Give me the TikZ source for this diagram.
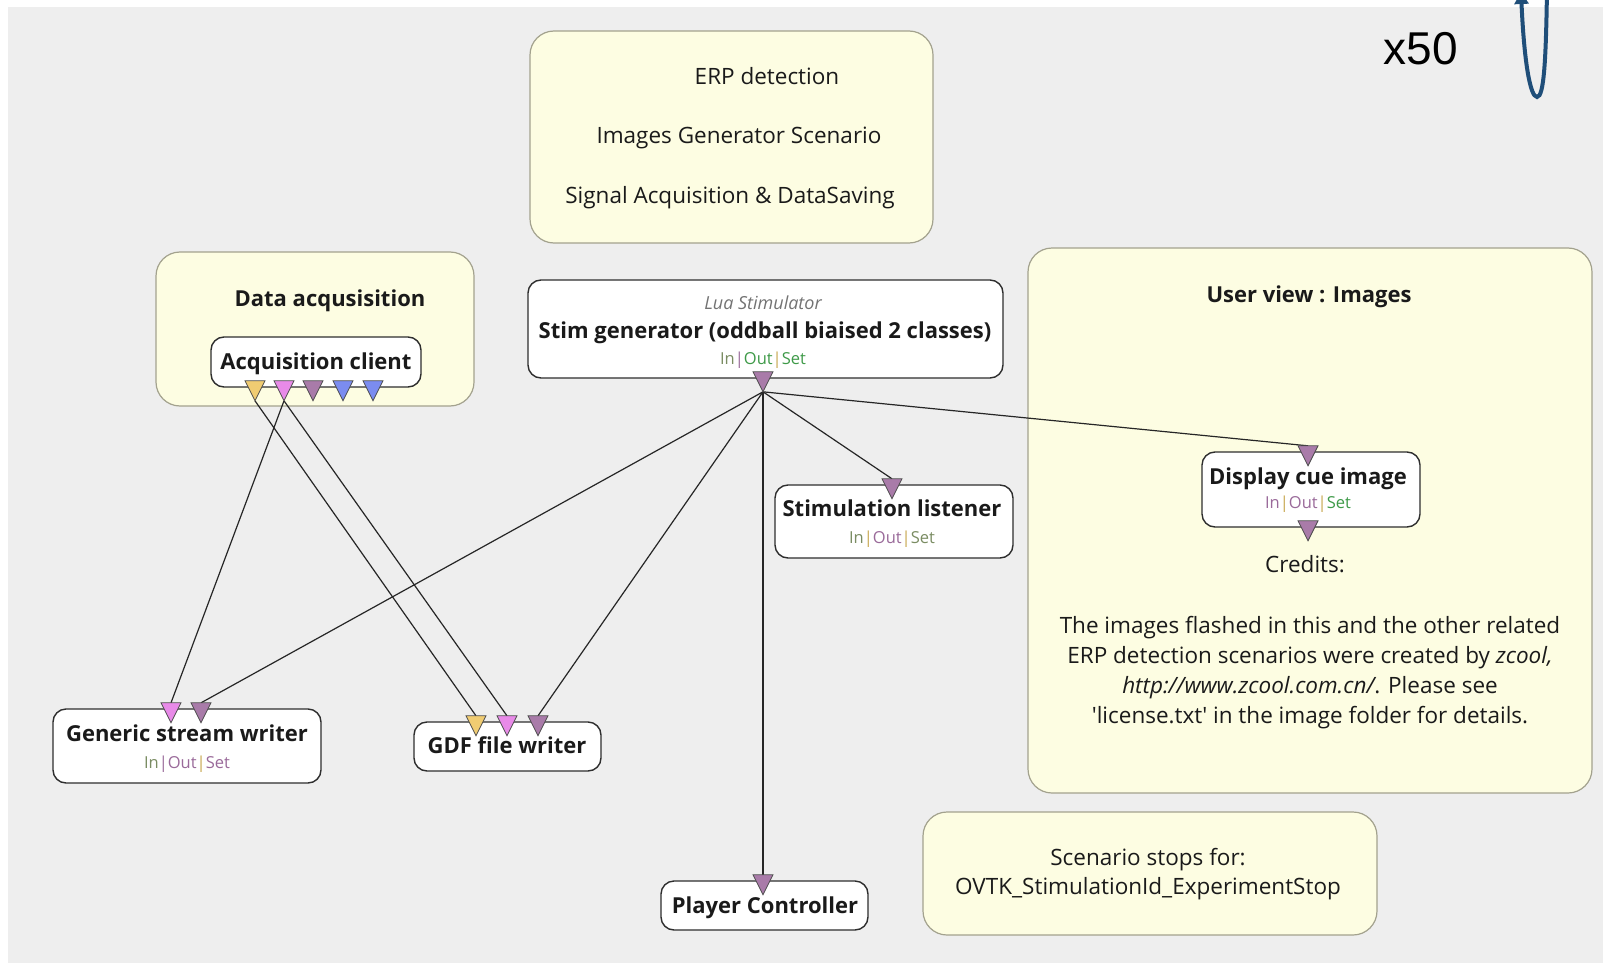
\documentclass[tikz,border=0pt]{standalone}
\usepackage{fontspec}
\setmainfont{Open Sans}
\newfontfamily\arialf{Liberation Sans}
\usetikzlibrary{arrows.meta,shapes.geometric}
\definecolor{bggray}{HTML}{EEEEEE}
\definecolor{notefill}{HTML}{FDFDE2}
\definecolor{noteborder}{HTML}{A3A28E}
\definecolor{boxborder}{HTML}{2E2E2E}
\definecolor{pyellow}{HTML}{F0CC72}
\definecolor{ppink}{HTML}{E88AE8}
\definecolor{pmauve}{HTML}{A97BA9}
\definecolor{pblue}{HTML}{7B8CF0}
\definecolor{arcblue}{HTML}{1F4E79}
\definecolor{tolive}{HTML}{7A8C62}
\definecolor{tmauve}{HTML}{9A6A9A}
\definecolor{tgreen}{HTML}{3E9A48}
\definecolor{tgold}{HTML}{C8A850}
\definecolor{txt}{HTML}{1A1A1A}
\pgfdeclarelayer{bg}
\pgfdeclarelayer{wires}
\pgfsetlayers{bg,wires,main}
\tikzset{
  note/.style={draw=noteborder, fill=notefill, rounded corners=24pt, line width=1.2pt, inner sep=0pt},
  box/.style={draw=boxborder, fill=white, rounded corners=13pt, line width=1.4pt, inner sep=0pt},
  lbl/.style={font=\fontsize{22.5}{26}\selectfont, text=txt, inner sep=0pt, anchor=base},
  bold/.style={font=\fontsize{22}{26}\selectfont\bfseries, text=txt, inner sep=0pt, anchor=base},
  small/.style={font=\fontsize{16.5}{19}\selectfont, inner sep=0pt, anchor=base},
  wire/.style={draw=black!85, line width=1.2pt},
  port/.style={shape=isosceles triangle, shape border rotate=-90, isosceles triangle stretches,
     minimum width=20pt, minimum height=20pt, inner sep=0pt, outer sep=0pt, draw=black!70, line width=0.8pt}
}
\begin{document}
\begin{tikzpicture}[x=1pt,y=-1pt]
\useasboundingbox (0,0) rectangle (1603,963);
\begin{pgfonlayer}{bg}
\fill[white] (0,0) rectangle (1603,963);
\fill[bggray] (8,7) rectangle (1603,963);
% comments
\node[note, minimum width=403pt, minimum height=212pt] (n-erp) at (731.5,137) {};
\node[lbl] (t-erp1) at (767,84.5) {ERP detection};
\node[lbl] (t-erp2) at (739,143.5) {Images Generator Scenario};
\node[lbl] (t-erp3) at (730,203.5) {Signal Acquisition \& DataSaving};
\node[note, minimum width=318pt, minimum height=154pt] (n-acq) at (315,329) {};
\node[bold] (t-acq) at (330,306.5) {Data acqusisition};
\node[note, minimum width=564pt, minimum height=545pt] (n-user) at (1310,520.5) {};
\node[bold] (t-user) at (1309,302.5) {User view : Images};
\node[lbl] (t-cred) at (1305,572.5) {Credits:};
\node[lbl] (t-p1) at (1310,633.5) {The images flashed in this and the other related};
\node[lbl] (t-p2) at (1310,663.5) {ERP detection scenarios were created by \textit{zcool,}};
\node[lbl] (t-p3) at (1310,693.5) {\textit{http://www.zcool.com.cn/}. Please see};
\node[lbl] (t-p4) at (1310,723.5) {\textquotesingle license.txt\textquotesingle{} in the image folder for details.};
\node[note, minimum width=454pt, minimum height=123pt] (n-stop) at (1150,873.5) {};
\node[lbl] (t-stop1) at (1148,865.5) {Scenario stops for:};
\node[lbl] (t-stop2) at (1148,894.5) {OVTK\_StimulationId\_ExperimentStop};
\end{pgfonlayer}
% boxes
\node[box, minimum width=210pt, minimum height=50pt] (acq) at (316,362) {};
\node[bold] (acq-t) at (316,369.5) {Acquisition client};
\node[box, minimum width=475pt, minimum height=98pt] (stim) at (765.5,329) {};
\node[small, font=\fontsize{18}{20}\selectfont\itshape, text=black!55] (stim-a) at (763,309) {Lua Stimulator};
\node[bold] (stim-t) at (765,338.5) {Stim generator (oddball biaised 2 classes)};
\node[small] (stim-io) at (763,364) {\textcolor{tolive}{In}\textcolor{tmauve}{|}\textcolor{tgreen}{Out}\textcolor{tgold}{|}\textcolor{tgreen}{Set}};
\node[box, minimum width=238pt, minimum height=73pt] (sl) at (894,521.5) {};
\node[bold] (sl-t) at (892,516.5) {Stimulation listener};
\node[small] (sl-io) at (892,543) {\textcolor{tolive}{In}\textcolor{tgold}{|}\textcolor{tmauve}{Out}\textcolor{tgold}{|}\textcolor{tolive}{Set}};
\node[box, minimum width=218pt, minimum height=75pt] (dc) at (1311,489.5) {};
\node[bold] (dc-t) at (1308,484.5) {Display cue image};
\node[small] (dc-io) at (1308,508) {\textcolor{tmauve}{In}\textcolor{tgold}{|}\textcolor{tmauve}{Out}\textcolor{tgold}{|}\textcolor{tgreen}{Set}};
\node[box, minimum width=268pt, minimum height=74pt] (gsw) at (187,746) {};
\node[bold] (gsw-t) at (187,741.5) {Generic stream writer};
\node[small] (gsw-io) at (187,768) {\textcolor{tolive}{In}\textcolor{tmauve}{|}\textcolor{tmauve}{Out}\textcolor{tgold}{|}\textcolor{tmauve}{Set}};
\node[box, minimum width=187pt, minimum height=49pt] (gdf) at (507.5,746.5) {};
\node[bold] (gdf-t) at (507,753.5) {GDF file writer};
\node[box, minimum width=207pt, minimum height=49pt] (pc) at (764.5,905.5) {};
\node[bold] (pc-t) at (765,913.5) {Player Controller};
% ports
\node[port, fill=pyellow] (acq-o1) at (255,387) {};
\node[port, fill=ppink] (acq-o2) at (284,387) {};
\node[port, fill=pmauve] (acq-o3) at (313,387) {};
\node[port, fill=pblue] (acq-o4) at (343,387) {};
\node[port, fill=pblue] (acq-o5) at (373,387) {};
\node[port, fill=pmauve] (stim-o) at (763,378) {};
\node[port, fill=pmauve] (sl-i) at (892,485) {};
\node[port, fill=pmauve] (dc-i) at (1308,452) {};
\node[port, fill=pmauve] (dc-o) at (1308,527) {};
\node[port, fill=ppink] (gsw-i1) at (171,709) {};
\node[port, fill=pmauve] (gsw-i2) at (201,709) {};
\node[port, fill=pyellow] (gdf-i1) at (476,722) {};
\node[port, fill=ppink] (gdf-i2) at (507,722) {};
\node[port, fill=pmauve] (gdf-i3) at (538,722) {};
\node[port, fill=pmauve] (pc-i) at (763,881) {};
% wires
\begin{pgfonlayer}{wires}
\draw[wire] (acq-o1.apex) -- (gdf-i1.north);
\draw[wire] (acq-o2.apex) -- (gsw-i1.north);
\draw[wire] (acq-o2.apex) -- (gdf-i2.north);
\draw[wire] (stim-o.apex) -- (gsw-i2.north);
\draw[wire] (stim-o.apex) -- (gdf-i3.north);
\draw[wire] (stim-o.apex) -- (sl-i.north);
\draw[wire] (stim-o.apex) -- (dc-i.north);
\draw[wire] (stim-o.apex) -- (pc-i.north);
\end{pgfonlayer}
% loop marker
\node[font=\arialf\fontsize{46}{50}\selectfont, inner sep=0pt, anchor=base] (x50) at (1421,65) {x50};
\draw[arcblue, line width=4pt, -{Triangle[length=12pt,width=14pt]}] (1547,-12) .. controls (1546,60) and (1544,97) .. (1537,97) .. controls (1530,97) and (1524,60) .. (1521,-8);
\end{tikzpicture}
\end{document}
